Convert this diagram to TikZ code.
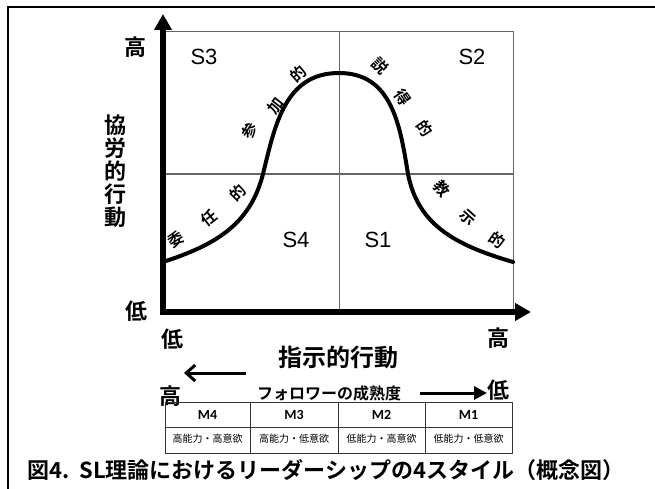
\documentclass[tikz,border=0pt]{standalone}
\usepackage{fontspec}
\usetikzlibrary{arrows.meta}
\newfontfamily\jpfont{Noto Sans CJK JP}
\newfontfamily\jpbold{Noto Sans CJK JP Bold}
\newfontfamily\arfont{Liberation Sans}
\newfontfamily\calfont{Carlito}[BoldFont={Carlito Bold}]
\begin{document}
\begin{tikzpicture}[x=1pt,y=-1pt,
  gridline/.style={draw=black!60, line width=1pt},
  curveline/.style={line width=4pt, line cap=round},
  axisline/.style={line width=6pt, line join=miter,
     {Triangle[length=16pt,width=17pt]}-{Triangle[length=16pt,width=17pt]}},
  biglab/.style={font=\jpbold\fontsize{22}{22}\selectfont, inner sep=0pt},
  slab/.style={font=\arfont\fontsize{22}{22}\selectfont, inner sep=0pt},
  clab/.style={font=\jpbold\fontsize{15.5}{15.5}\selectfont, inner sep=0pt},
  mlab/.style={font=\calfont\bfseries\fontsize{14}{14}\selectfont, inner sep=0pt},
  smlab/.style={font=\jpfont\fontsize{10}{10}\selectfont, inner sep=0pt},
  cell/.style={draw=black!80, line width=1pt}]
\useasboundingbox (0,0) rectangle (655,489);
\fill[white] (0,0) rectangle (655,489);
% frame
\coordinate (fb) at (8,489);
\coordinate (ftl) at (8,7);
\coordinate (ftr) at (655,7);
\draw[line width=2pt] (fb) -- (ftl) -- (ftr);
% grid
\coordinate (gtl) at (163,32);
\coordinate (gbr) at (513,312);
\coordinate (gmt) at (339,32);
\coordinate (gmb) at (339,312);
\coordinate (gml) at (163,174);
\coordinate (gmr) at (513,174);
\draw[gridline] (gtl) rectangle (gbr);
\draw[gridline] (gmt) -- (gmb);
\draw[gridline] (gml) -- (gmr);
% curve
\coordinate (c0) at (163,262);
\coordinate (c1) at (263,174);
\coordinate (c2) at (339,73);
\coordinate (c3) at (408,174);
\coordinate (c4) at (513,262);
\draw[curveline] (c0) .. controls (215,245) and (250,225) .. (c1)
  .. controls (275,125) and (285,73) .. (c2)
  .. controls (392,73) and (400,125) .. (c3)
  .. controls (418,225) and (455,245) .. (c4);
% axes
\coordinate (ytip) at (163,14);
\coordinate (O) at (163,312);
\coordinate (xtip) at (531,312);
\draw[axisline] (ytip) -- (O) -- (xtip);
% axis labels
\node[biglab] (yhi) at (135,47) {高};
\node[biglab] (ylo) at (136,311) {低};
\node[biglab] (xlo) at (172,339) {低};
\node[biglab] (xhi) at (498,338) {高};
\node[biglab, align=center] (ytitle) at (115,171) {協\\[1pt]労\\[1pt]的\\[1pt]行\\[1pt]動};
\node[font=\jpbold\fontsize{24}{24}\selectfont, inner sep=0pt] (xtitle) at (338,357) {指示的行動};
% quadrant labels
\node[slab] (s3) at (204,57) {S3};
\node[slab] (s2) at (472,57) {S2};
\node[slab] (s4) at (296,240) {S4};
\node[slab] (s1) at (378,240) {S1};
% curve labels
\node[clab, rotate=32] (k1) at (176,239) {委};
\node[clab, rotate=38] (k2) at (209,218) {任};
\node[clab, rotate=45] (k3) at (238,193) {的};
\node[clab, rotate=58] (k4) at (250,131) {参};
\node[clab, rotate=52] (k5) at (276,106) {加};
\node[clab, rotate=42] (k6) at (298,74) {的};
\node[clab, rotate=-45] (k7) at (380,66) {説};
\node[clab, rotate=-55] (k8) at (403,97) {得};
\node[clab, rotate=-55] (k9) at (425,128) {的};
\node[clab, rotate=-50] (k10) at (442,189) {教};
\node[clab, rotate=-42] (k11) at (468,218) {示};
\node[clab, rotate=-35] (k12) at (497,240) {的};
% maturity
\node[biglab] (mhi) at (170,396) {高};
\node[biglab] (mlo) at (498,390) {低};
\node[font=\jpbold\fontsize{16}{16}\selectfont, inner sep=0pt] (mat) at (329,393) {フォロワーの成熟度};
\coordinate (la1) at (246,373);
\coordinate (la2) at (184,373);
\draw[line width=3pt, -{Straight Barb[length=9pt,width=16pt,line width=3pt]}] (la1) -- (la2);
\coordinate (ra1) at (420,393);
\coordinate (ra2) at (487,393);
\draw[line width=3pt, -{Triangle[length=13pt,width=13pt]}] (ra1) -- (ra2);
% table
\coordinate (t1) at (165,402);
\coordinate (t2) at (512,453);
\draw[cell] (t1) rectangle (t2);
\coordinate (r1) at (165,427);
\coordinate (r2) at (512,427);
\draw[cell] (r1) -- (r2);
\foreach \xx/\nm in {250/a,338/b,425/c} {
  \coordinate (v\nm1) at (\xx,402);
  \coordinate (v\nm2) at (\xx,453);
  \draw[cell] (v\nm1) -- (v\nm2);
}
\node[mlab] (m4) at (207.5,415) {M4};
\node[mlab] (m3) at (294,415) {M3};
\node[mlab] (m2) at (381.5,415) {M2};
\node[mlab] (m1) at (468.5,415) {M1};
\node[smlab] (d4) at (207.5,439) {高能力・高意欲};
\node[smlab] (d3) at (294,439) {高能力・低意欲};
\node[smlab] (d2) at (381.5,439) {低能力・高意欲};
\node[smlab] (d1) at (468.5,439) {低能力・低意欲};
% caption
\node[font=\jpbold\fontsize{22}{22}\selectfont, inner sep=0pt, anchor=west] (cap) at (27,470) {図4.\ \ SL理論におけるリーダーシップの4スタイル（概念図）};
\end{tikzpicture}
\end{document}
